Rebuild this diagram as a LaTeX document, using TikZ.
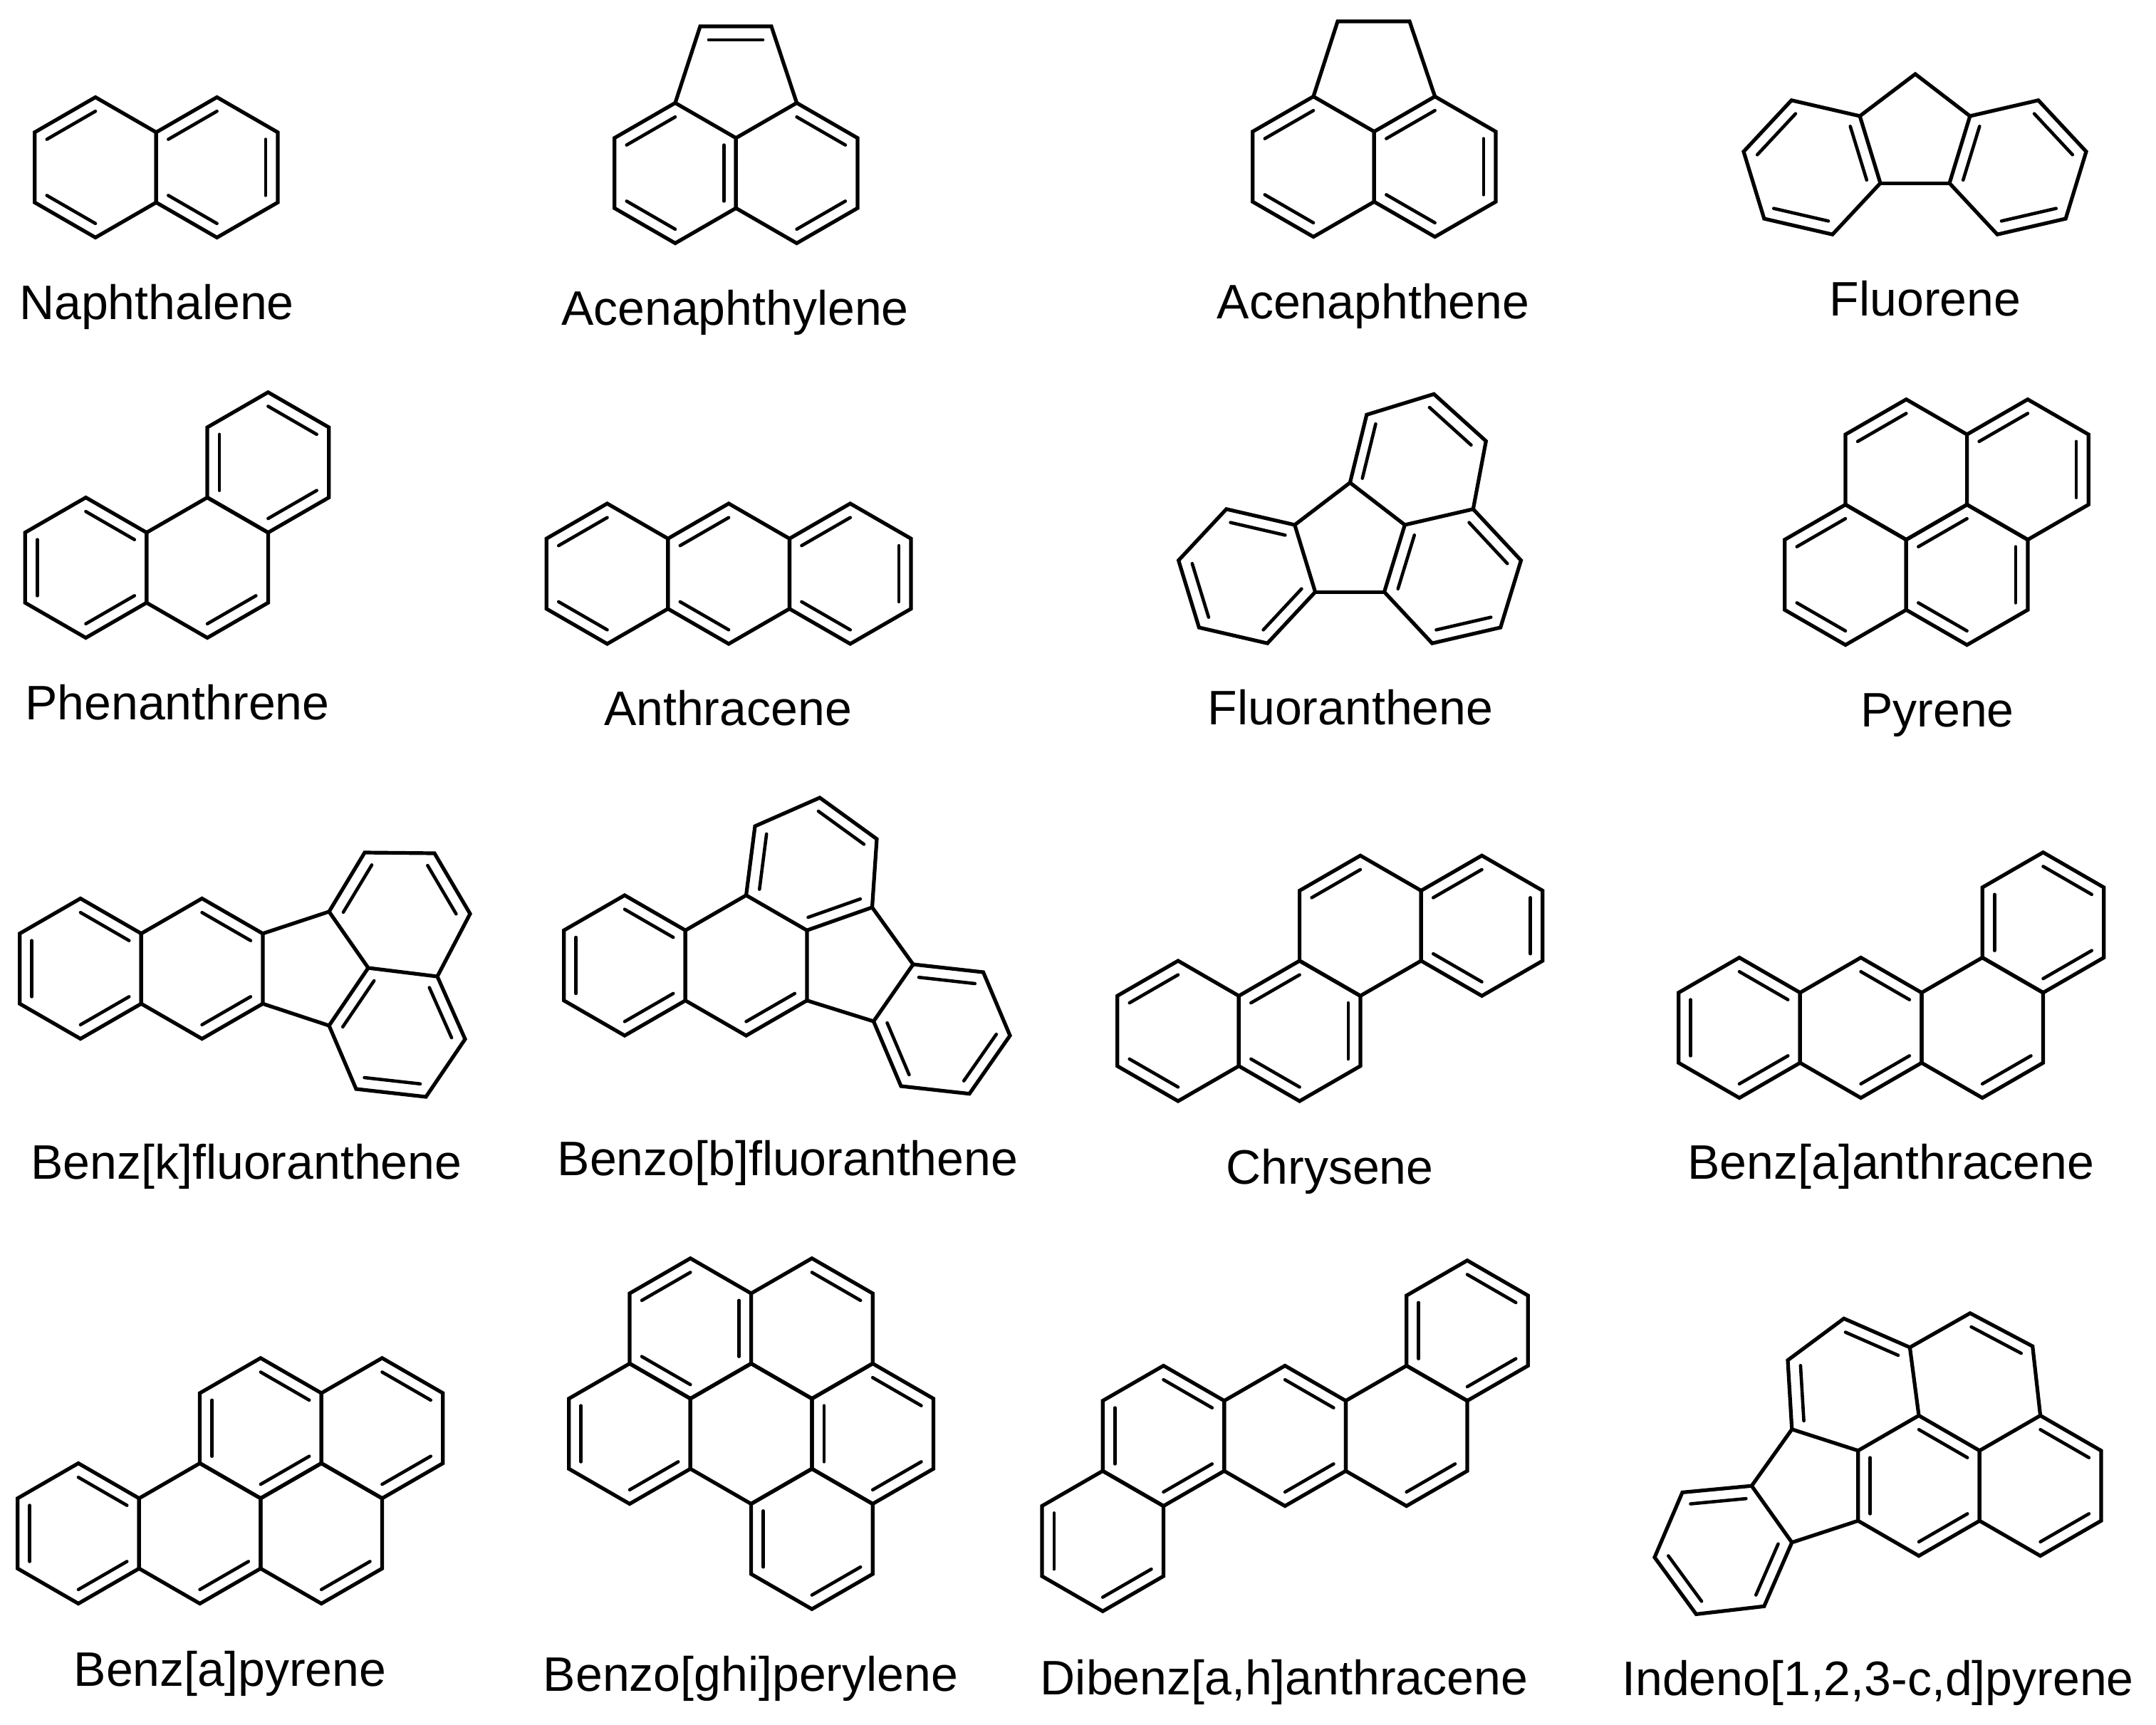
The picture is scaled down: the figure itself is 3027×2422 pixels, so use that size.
\documentclass[tikz,border=0pt]{standalone}
\usepackage{fontspec}
\setmainfont{Liberation Sans}
\usetikzlibrary{calc}
\tikzset{
  bond/.style={line width=.52mm,line join=miter,black},
  inner/.style={line width=.46mm,line cap=round,black},
  molname/.style={anchor=base,inner sep=0pt,font=\fontsize{19.35}{22}\selectfont}
}
\newcommand{\ringr}{98.5}
% ring at a free place: name, x, y, rotation, sides with an inner line (0 for none)
\newcommand{\freering}[5]{%
  \begin{scope}[shift={(#2,#3)},rotate=#4]
    \foreach \k in {1,...,6} {\coordinate (#1-\k) at ({210+60*\k}:\ringr);}
    \draw[bond] (#1-1) -- (#1-2) -- (#1-3) -- (#1-4) -- (#1-5) -- (#1-6) -- cycle;
    \foreach \s in {#5} {
      \ifnum\s>0
        \draw[inner] ({210+60*\s}:.8*\ringr) -- ({270+60*\s}:.8*\ringr);
      \fi
    }
  \end{scope}}
% ring on the flat lattice of the current scope
\newcommand{\hexring}[4]{\freering{#1}{#2*85.3}{#3*49.25}{0}{#4}}
% inner line of an uneven ring: end, end, middle of the ring
\newcommand{\innerbond}[3]{\draw[inner] ($(#3)!.8!(#1)$) -- ($(#3)!.8!(#2)$);}

\begin{document}
\begin{tikzpicture}[x=.1mm,y=-.1mm]
  \useasboundingbox (0,0) rectangle (3027,2422);

  % first row
  \begin{scope}[shift={(134,235)}]
    \hexring{na}{0}{0}{6,4}
    \hexring{nb}{2}{0}{6,2,4}
  \end{scope}
  \node[molname] (naphthalene) at (220,448) {Naphthalene};

  \begin{scope}[shift={(948,243)}]
    \hexring{ya}{0}{0}{6,2,4}
    \hexring{yb}{2}{0}{1,3}
  \end{scope}
  \draw[bond] (ya-1) -- (983,37) -- (1083,37) -- (yb-1);
  \draw[inner] (995,56) -- (1071,56);
  \node[molname] (acenaphthylene) at (1032,456) {Acenaphthylene};

  \begin{scope}[shift={(1844,234)}]
    \hexring{ea}{0}{0}{6,4}
    \hexring{eb}{2}{0}{6,2,4}
  \end{scope}
  \draw[bond] (ea-1) -- (1878,30) -- (1979,30) -- (eb-1);
  \node[molname] (acenaphthene) at (1928,447) {Acenaphthene};

  \freering{fa}{2544}{235}{17}{6,2,4}
  \freering{fb}{2833}{235}{-17}{1,3,5}
  \draw[bond] (fa-2) -- (2689,104) -- (fb-6);
  \draw[bond] (fa-3) -- (fb-5);
  \node[molname] (fluorene) at (2703,443) {Fluorene};

  % second row
  \begin{scope}[shift={(120.5,797)}]
    \hexring{pa}{0}{0}{1,5,3}
    \hexring{pb}{2}{0}{3}
    \hexring{pc}{3}{-3}{1,5,3}
  \end{scope}
  \node[molname] (phenanthrene) at (249,1010) {Phenanthrene};

  \begin{scope}[shift={(852.5,805.5)}]
    \hexring{aa}{0}{0}{6,4}
    \hexring{ab}{2}{0}{6,4}
    \hexring{ac}{4}{0}{6,2,4}
  \end{scope}
  \node[molname] (anthracene) at (1022,1018) {Anthracene};

  \freering{la}{1750.6}{809}{17}{1,5,3}
  \freering{lb}{2039.5}{809}{-17}{1,3,5}
  \coordinate (lp) at (1895.4,677.7);
  \coordinate (lq) at (1918.8,582.3);
  \coordinate (lr) at (2013.2,553.3);
  \coordinate (ls) at (2086.3,619.3);
  \coordinate (lc) at (1982,647);
  \draw[bond] (la-2) -- (lp) -- (lb-6);
  \draw[bond] (la-3) -- (lb-5);
  \draw[bond] (lp) -- (lq) -- (lr) -- (ls) -- (lb-1);
  \innerbond{lp}{lq}{lc}
  \innerbond{lr}{ls}{lc}
  \node[molname] (fluoranthene) at (1896,1017) {Fluoranthene};

  \begin{scope}[shift={(2591,807)}]
    \hexring{ra}{0}{0}{6,4}
    \hexring{rb}{2}{0}{6,2,4}
    \hexring{rc}{1}{-3}{6}
    \hexring{rd}{3}{-3}{6,2}
  \end{scope}
  \node[molname] (pyrene) at (2720,1020) {Pyrene};

  % third row
  \begin{scope}[shift={(113,1360)}]
    \hexring{ka}{0}{0}{1,5,3}
    \hexring{kb}{2}{0}{1,3}
  \end{scope}
  \coordinate (k1) at (462,1280);
  \coordinate (k2) at (512,1197);
  \coordinate (k3) at (610,1198);
  \coordinate (k4) at (660,1283);
  \coordinate (k5) at (614,1371);
  \coordinate (k6) at (517,1359);
  \coordinate (k7) at (653,1459);
  \coordinate (k8) at (598,1540);
  \coordinate (k9) at (500,1529);
  \coordinate (k10) at (462,1440);
  \coordinate (kc) at (562,1284);
  \coordinate (kd) at (558,1449);
  \draw[bond] (k1) -- (k2) -- (k3) -- (k4) -- (k5) -- (k6) -- cycle;
  \draw[bond] (k5) -- (k7) -- (k8) -- (k9) -- (k10) -- (k6);
  \draw[bond] (kb-2) -- (k1);
  \draw[bond] (kb-3) -- (k10);
  \innerbond{k1}{k2}{kc}
  \innerbond{k3}{k4}{kc}
  \innerbond{k6}{k10}{kd}
  \innerbond{k5}{k7}{kd}
  \innerbond{k8}{k9}{kd}
  \node[molname] (benzk) at (346,1655) {Benz[k]fluoranthene};

  \begin{scope}[shift={(877,1355.5)}]
    \hexring{ba}{0}{0}{1,5,3}
    \hexring{bb}{2}{0}{3}
  \end{scope}
  \coordinate (b1) at (1060,1160);
  \coordinate (b2) at (1151,1120);
  \coordinate (b3) at (1231,1178);
  \coordinate (b4) at (1224.5,1274);
  \coordinate (bc) at (1141,1215);
  \coordinate (b5) at (1282,1354);
  \coordinate (b6) at (1380.5,1365);
  \coordinate (b7) at (1418,1454);
  \coordinate (b8) at (1361,1535.7);
  \coordinate (b9) at (1265,1525);
  \coordinate (b10) at (1226.5,1434);
  \coordinate (bd) at (1322,1445);
  \draw[bond] (bb-1) -- (b1) -- (b2) -- (b3) -- (b4) -- (bb-2);
  \draw[bond] (b5) -- (b6) -- (b7) -- (b8) -- (b9) -- (b10) -- cycle;
  \draw[bond] (b4) -- (b5);
  \draw[bond] (bb-3) -- (b10);
  \innerbond{bb-1}{b1}{bc}
  \innerbond{b2}{b3}{bc}
  \innerbond{bb-2}{b4}{bc}
  \innerbond{b5}{b6}{bd}
  \innerbond{b7}{b8}{bd}
  \innerbond{b9}{b10}{bd}
  \node[molname] (benzb) at (1106,1650) {Benzo[b]fluoranthene};

  \begin{scope}[shift={(1654,1447.5)}]
    \hexring{ca}{0}{0}{6,4}
    \hexring{cb}{2}{0}{6,2,4}
    \hexring{cc}{3}{-3}{6}
    \hexring{cd}{5}{-3}{6,2,4}
  \end{scope}
  \node[molname] (chrysene) at (1867,1662) {Chrysene};

  \begin{scope}[shift={(2442,1443)}]
    \hexring{da}{0}{0}{1,5,3}
    \hexring{db}{2}{0}{1,3}
    \hexring{dc}{4}{0}{3}
    \hexring{dd}{5}{-3}{1,5,3}
  \end{scope}
  \node[molname] (benza) at (2655,1655) {Benz[a]anthracene};

  % fourth row
  \begin{scope}[shift={(110,2153)}]
    \hexring{ga}{0}{0}{1,5,3}
    \hexring{gb}{2}{0}{3}
    \hexring{gc}{4}{0}{3}
    \hexring{gd}{3}{-3}{1,5,3}
    \hexring{ge}{5}{-3}{1,3}
  \end{scope}
  \node[molname] (benzapyrene) at (323,2367) {Benz[a]pyrene};

  \begin{scope}[shift={(884,2013)}]
    \hexring{ha}{0}{0}{5,3}
    \hexring{hb}{2}{0}{0}
    \hexring{hc}{4}{0}{1,5,3}
    \hexring{hd}{1}{-3}{6,2,4}
    \hexring{he}{3}{-3}{1}
    \hexring{hf}{3}{3}{5,3}
  \end{scope}
  \node[molname] (perylene) at (1054,2374) {Benzo[ghi]perylene};

  \begin{scope}[shift={(1633.5,2016)}]
    \hexring{ia}{0}{0}{1,5,3}
    \hexring{ib}{2}{0}{1,3}
    \hexring{ic}{4}{0}{3}
    \hexring{id}{5}{-3}{1,5,3}
    \hexring{ie}{-1}{3}{5,3}
  \end{scope}
  \node[molname] (dibenz) at (1803,2379) {Dibenz[a,h]anthracene};

  \begin{scope}[shift={(2694,2086)}]
    \hexring{ja}{0}{0}{1,5,3}
    \hexring{jb}{2}{0}{1,3}
  \end{scope}
  \coordinate (j1) at (2588.8,1851.3);
  \coordinate (j2) at (2681.4,1891.8);
  \coordinate (j3) at (2515.8,2006.8);
  \coordinate (j4) at (2510,1909.8);
  \coordinate (j5) at (2766,1843.8);
  \coordinate (j6) at (2853.7,1890.2);
  \coordinate (jc) at (2599.6,1947.4);
  \coordinate (jd) at (2773.9,1939.7);
  \coordinate (j7) at (2459.3,2086.2);
  \coordinate (j8) at (2515.8,2165.7);
  \coordinate (j9) at (2476.8,2255.3);
  \coordinate (j10) at (2381.4,2266.4);
  \coordinate (j11) at (2323,2186.6);
  \coordinate (j12) at (2362,2095.4);
  \coordinate (je) at (2419.4,2175.9);
  \draw[bond] (ja-6) -- (j3) -- (j4) -- (j1) -- (j2) -- (ja-1);
  \draw[bond] (j2) -- (j5) -- (j6) -- (jb-1);
  \draw[bond] (j7) -- (j8) -- (j9) -- (j10) -- (j11) -- (j12) -- cycle;
  \draw[bond] (j3) -- (j7);
  \draw[bond] (j8) -- (ja-5);
  \innerbond{j1}{j2}{jc}
  \innerbond{j3}{j4}{jc}
  \innerbond{j5}{j6}{jd}
  \innerbond{j7}{j12}{je}
  \innerbond{j8}{j9}{je}
  \innerbond{j10}{j11}{je}
  \node[molname] (indeno) at (2636.5,2380) {Indeno[1,2,3-c,d]pyrene};
\end{tikzpicture}
\end{document}
